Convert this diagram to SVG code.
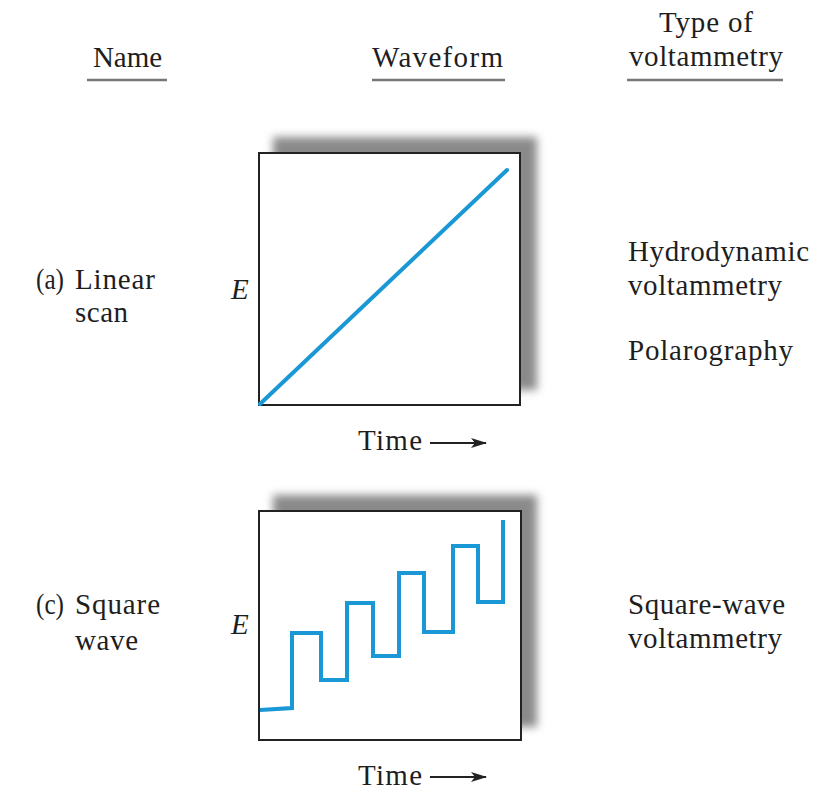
<svg xmlns="http://www.w3.org/2000/svg" width="816" height="792" viewBox="0 0 816 792">
<style>
.t{font-family:"Liberation Serif","Times New Roman",serif;font-size:29px;fill:#1e1e1e}
.i{font-style:italic}
.ul{stroke:#777;stroke-width:2.5}
.box{fill:#fff;stroke:#222;stroke-width:2}
.sh{fill:#8a8a8a;filter:url(#blur)}
.wave{fill:none;stroke:#1a98d6;stroke-width:4;stroke-linejoin:miter}
.arr{stroke:#222;stroke-width:1.8}
</style>
<defs>
<filter id="blur" x="-10%" y="-10%" width="120%" height="120%"><feGaussianBlur stdDeviation="4"/></filter>
<marker id="ah" markerWidth="16" markerHeight="10" refX="15" refY="5" orient="auto" markerUnits="userSpaceOnUse"><path d="M0,0 L16,5 L0,10 L4,5 Z" fill="#222"/></marker>
</defs>
<rect width="816" height="792" fill="#fff"/>
<g id="headers">
<text class="t" x="93" y="67" textLength="69" lengthAdjust="spacing">Name</text>
<text class="t" x="372" y="67" textLength="131" lengthAdjust="spacing">Waveform</text>
<text class="t" x="659" y="32" textLength="94" lengthAdjust="spacing">Type of</text>
<text class="t" x="629" y="66" textLength="154" lengthAdjust="spacing">voltammetry</text>
<line class="ul" x1="87" y1="80" x2="167" y2="80"/>
<line class="ul" x1="372" y1="80" x2="505" y2="80"/>
<line class="ul" x1="627" y1="80" x2="783" y2="80"/>
</g>
<g id="row-a">
<text class="t" x="36" y="289" textLength="28" lengthAdjust="spacingAndGlyphs">(a)</text>
<text class="t" x="75" y="289" textLength="80" lengthAdjust="spacing">Linear</text>
<text class="t" x="75" y="322" textLength="53" lengthAdjust="spacing">scan</text>
<text class="t i" x="231" y="299">E</text>
<text class="t" x="628" y="261" textLength="181" lengthAdjust="spacing">Hydrodynamic</text>
<text class="t" x="628" y="295" textLength="154" lengthAdjust="spacing">voltammetry</text>
<text class="t" x="628" y="360" textLength="165" lengthAdjust="spacing">Polarography</text>
</g>
<g id="plot-a">
<rect class="sh" x="273" y="137" width="264" height="253"/>
<rect class="box" x="259" y="153" width="261" height="252"/>
<line class="wave" x1="260" y1="404" x2="507" y2="170" stroke-linecap="round"/>
<text class="t" x="358" y="450" textLength="64" lengthAdjust="spacing">Time</text>
</g>
<g id="row-c">
<text class="t" x="36" y="614" textLength="28" lengthAdjust="spacingAndGlyphs">(c)</text>
<text class="t" x="75" y="614" textLength="85" lengthAdjust="spacing">Square</text>
<text class="t" x="75" y="650" textLength="63" lengthAdjust="spacing">wave</text>
<text class="t i" x="231" y="634">E</text>
<text class="t" x="628" y="614" textLength="157" lengthAdjust="spacing">Square-wave</text>
<text class="t" x="628" y="648" textLength="154" lengthAdjust="spacing">voltammetry</text>
</g>
<g id="plot-c">
<rect class="sh" x="273" y="495" width="264" height="232"/>
<rect class="box" x="259" y="511" width="262" height="229"/>
<polyline class="wave" points="260,710 292,708 292,633 321,633 321,680 347,680 347,603 373,603 373,656 399,656 399,573 424,573 424,632 453,632 453,546 478,546 478,602 503,602 503,520"/>
<text class="t" x="358" y="785" textLength="64" lengthAdjust="spacing">Time</text>
</g>
<g id="connectors">
<line class="arr" x1="430" y1="443" x2="486" y2="443" marker-end="url(#ah)"/>
<line class="arr" x1="430" y1="777" x2="486" y2="777" marker-end="url(#ah)"/>
</g>
</svg>
